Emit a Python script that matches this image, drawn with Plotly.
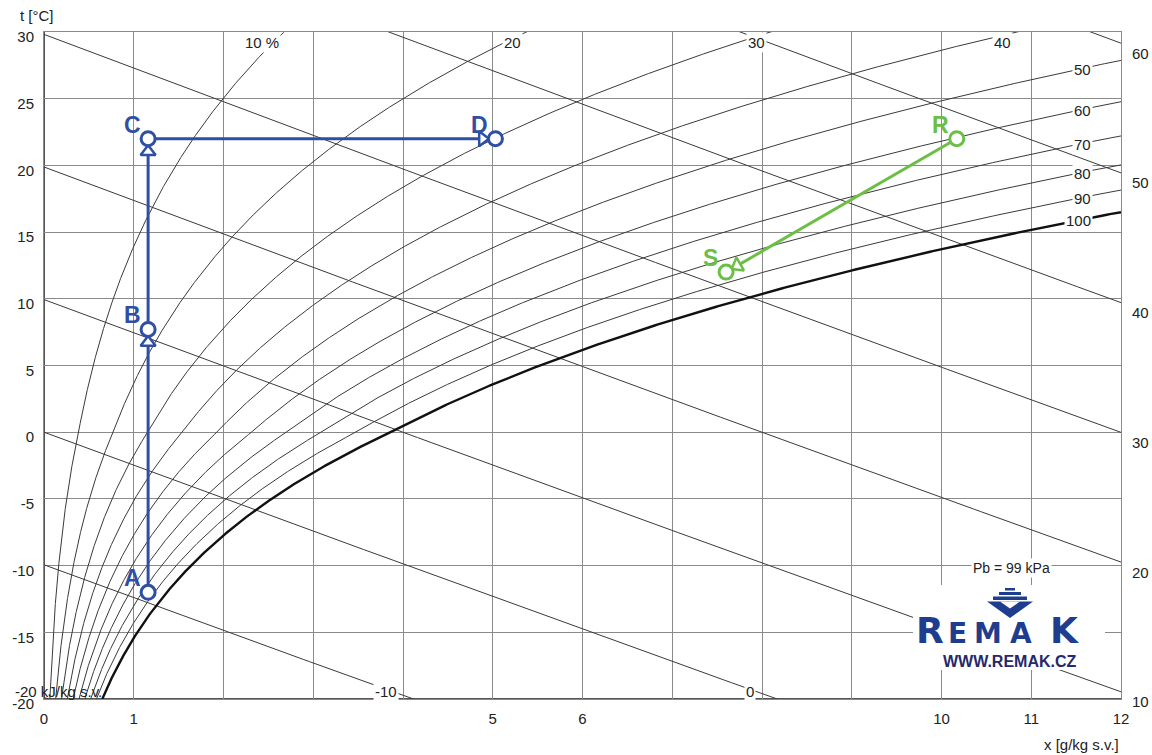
import numpy as np
import plotly.graph_objects as go

# --- chart constants -------------------------------------------------------
P_BARO = 99.0                      # barometric pressure, kPa
RH_LEVELS = [10, 20, 30, 40, 50, 60, 70, 80, 90, 100]          # %
ENTHALPY_LEVELS = [-20, -10, 0, 10, 20, 30, 40, 50, 60]        # kJ/kg s.v.
ENTHALPY_RIGHT_LABELS = [10, 20, 30, 40, 50, 60]
ENTHALPY_BOTTOM_LABELS = [-10, 0]
RH_TOP_LABELS = [10, 20, 30, 40]
RH_RIGHT_LABELS = [50, 60, 70, 80, 90, 100]

X_TICKS = list(range(0, 13))
X_TICK_TEXT = ["0", "1", "", "", "", "5", "6", "", "", "", "10", "11", "12"]
T_TICKS = [-20, -15, -10, -5, 0, 5, 10, 15, 20, 25, 30]
T_TICK_TEXT = ["-20", "-15", "-10", "-5", "0", "5", "10", "15", "20", "25", "30"]

# --- air states ------------------------------------------------------------
state_names = ["A", "B", "C", "D", "R", "S"]
state_x = [1.16, 1.16, 1.16, 5.03, 10.17, 7.60]      # g/kg s.v.
state_t = [-12.0, 7.7, 22.0, 22.0, 22.0, 12.0]       # °C

heating_path = ["A", "B", "C", "D"]
cooling_path = ["R", "S"]

BLUE = "#2f4fa5"
GREEN = "#6cbf45"
LOGO_BLUE = "#1f3d8e"
LOGO_NAVY = "#25296b"
FONT_FAMILY = "Liberation Sans, Arial, sans-serif"

# --- layout geometry -------------------------------------------------------
W, H = 1152, 755
ML, MR, MT, MB = 44, 31, 32, 56
PLOT_W = W - ML - MR
PLOT_H = H - MT - MB
X_RANGE = [0, 12]
T_RANGE = [-20, 30]
PX_PER_X = PLOT_W / (X_RANGE[1] - X_RANGE[0])
PX_PER_T = PLOT_H / (T_RANGE[1] - T_RANGE[0])


def px_paper_x(px):
    return (px - ML) / PLOT_W


def px_paper_y(py):
    return 1 - (py - MT) / PLOT_H


# --- psychrometrics --------------------------------------------------------
def p_sat(t):
    t = np.asarray(t, dtype=float)
    water = 0.61094 * np.exp(17.625 * t / (t + 243.04))
    ice = 0.61115 * np.exp(22.452 * t / (272.55 + t))
    return np.where(t >= 0, water, ice)


def x_of_t_rh(t, rh):
    pv = rh / 100.0 * p_sat(t)
    return 622.0 * pv / (P_BARO - pv)


def t_of_h_x(h, x):
    return (h - 2.501 * x) / (1.006 + 0.00186 * x)


def x_of_h_t(h, t):
    return (h - 1.006 * t) / (2.501 + 0.00186 * t)


T_GRID = np.linspace(-20, 32, 1200)


def t_of_x_rh(x, rh):
    xs = x_of_t_rh(T_GRID, rh)
    return float(np.interp(x, xs, T_GRID))


fig = go.Figure()

# enthalpy lines
x_line = np.linspace(0, 12, 200)
for h in ENTHALPY_LEVELS:
    fig.add_trace(go.Scatter(
        x=x_line, y=t_of_h_x(h, x_line), mode="lines",
        line=dict(color="#3a3a3a", width=1), hoverinfo="skip"))

# relative humidity curves
for rh in RH_LEVELS:
    fig.add_trace(go.Scatter(
        x=x_of_t_rh(T_GRID, rh), y=T_GRID, mode="lines",
        line=dict(color="#111111" if rh == 100 else "#3a3a3a",
                  width=2.4 if rh == 100 else 1),
        hoverinfo="skip"))

# process lines with arrowheads and state markers
pos = {n: (xv, tv) for n, xv, tv in zip(state_names, state_x, state_t)}


def draw_process(path, color):
    xs = [pos[n][0] for n in path]
    ts = [pos[n][1] for n in path]
    fig.add_trace(go.Scatter(x=xs, y=ts, mode="lines",
                             line=dict(color=color, width=3), hoverinfo="skip"))
    ax, at, ang = [], [], []
    for (x0, t0), (x1, t1) in zip(zip(xs[:-1], ts[:-1]), zip(xs[1:], ts[1:])):
        dx = (x1 - x0) * PX_PER_X
        dy = -(t1 - t0) * PX_PER_T
        n = np.hypot(dx, dy)
        ux, uy = dx / n, dy / n
        back = 13.0
        ax.append(x1 - back * ux / PX_PER_X)
        at.append(t1 + back * uy / PX_PER_T)
        ang.append(float(np.degrees(np.arctan2(ux, -uy))))
    fig.add_trace(go.Scatter(
        x=ax, y=at, mode="markers", hoverinfo="skip",
        marker=dict(symbol="triangle-up", size=13, angle=ang, color="white",
                    line=dict(color=color, width=2.5))))
    fig.add_trace(go.Scatter(
        x=xs, y=ts, mode="markers", hoverinfo="skip",
        marker=dict(symbol="circle", size=14, color="white",
                    line=dict(color=color, width=3))))
    for n in path:
        fig.add_annotation(x=pos[n][0], y=pos[n][1], text=f"<b>{n}</b>",
                           showarrow=False, xshift=-16, yshift=14,
                           xanchor="center", yanchor="middle",
                           font=dict(size=23, color=color, family=FONT_FAMILY))


draw_process(heating_path, BLUE)
draw_process(cooling_path, GREEN)

LABEL_FONT = dict(size=15, color="#222222", family=FONT_FAMILY)

# relative humidity labels
for rh in RH_TOP_LABELS:
    fig.add_annotation(x=float(x_of_t_rh(30.0, rh)), y=29.25,
                       text="10 %" if rh == 10 else str(rh),
                       xanchor="right", yanchor="middle", xshift=-3, showarrow=False,
                       bgcolor="white", borderpad=1, font=LABEL_FONT)
for rh in RH_RIGHT_LABELS:
    fig.add_annotation(x=11.684, y=t_of_x_rh(11.5, rh), text=str(rh),
                       xanchor="right", yanchor="middle", showarrow=False,
                       bgcolor="white", borderpad=1, font=LABEL_FONT)

# enthalpy labels
for h in ENTHALPY_RIGHT_LABELS:
    fig.add_annotation(x=1 + 9 / PLOT_W, xref="paper",
                       y=float(t_of_h_x(h, 12.0)), yref="y", yshift=-10,
                       text=str(h), xanchor="left", yanchor="middle",
                       showarrow=False, font=LABEL_FONT)
for h in ENTHALPY_BOTTOM_LABELS:
    fig.add_annotation(x=float(x_of_h_t(h, -19.4)), y=-19.4, xshift=-5,
                       text=str(h), xanchor="center", yanchor="middle",
                       showarrow=False, bgcolor="white",
                       borderpad=1, font=LABEL_FONT)
fig.add_annotation(x=px_paper_x(13), xref="paper", y=-19.4, yref="y",
                   text="-20 kJ/kg s.v.", xanchor="left", yanchor="middle",
                   showarrow=False, font=LABEL_FONT)

# axis titles
fig.add_annotation(x=px_paper_x(18), y=px_paper_y(15), xref="paper", yref="paper",
                   text="t [°C]", xanchor="left", yanchor="middle",
                   showarrow=False, font=LABEL_FONT)
fig.add_annotation(x=px_paper_x(1121), y=px_paper_y(744), xref="paper", yref="paper",
                   text="x [g/kg s.v.]", xanchor="right", yanchor="middle",
                   showarrow=False, font=LABEL_FONT)

# pressure note
fig.add_annotation(x=10.78, y=-10.2, text="Pb = 99 kPa", showarrow=False,
                   xanchor="center", yanchor="middle",
                   bgcolor="white", borderpad=1,
                   font=dict(size=14, color="#222222", family=FONT_FAMILY))

# --- REMAK logo ---------------------------------------------------------
shapes = []
shapes.append(dict(type="rect", xref="paper", yref="paper", layer="above",
                   x0=px_paper_x(913), x1=px_paper_x(1105),
                   y0=px_paper_y(670), y1=px_paper_y(585),
                   fillcolor="white", line=dict(width=0)))
for (a, b, c, d) in [(1005, 588, 1015, 590.5), (999, 592, 1021, 595),
                     (993, 596.5, 1027, 600)]:
    shapes.append(dict(type="rect", xref="paper", yref="paper", layer="above",
                       x0=px_paper_x(a), x1=px_paper_x(c),
                       y0=px_paper_y(d), y1=px_paper_y(b),
                       fillcolor=LOGO_BLUE, line=dict(width=0)))


def ppath(pts):
    s = "M " + " L ".join(f"{px_paper_x(p[0])},{px_paper_y(p[1])}" for p in pts)
    return s + " Z"


shapes.append(dict(type="path", xref="paper", yref="paper", layer="above",
                   path=ppath([(987, 601.5), (1033, 601.5), (1010, 618)]),
                   fillcolor=LOGO_BLUE, line=dict(width=0)))
shapes.append(dict(type="path", xref="paper", yref="paper", layer="above",
                   path=ppath([(1000, 601.5), (1020, 601.5), (1010, 608.5)]),
                   fillcolor="white", line=dict(width=0)))

# left and bottom axis lines
shapes.append(dict(type="line", xref="paper", yref="paper", x0=0, x1=0, y0=0, y1=1,
                   line=dict(color="#555555", width=2), layer="below"))
shapes.append(dict(type="line", xref="paper", yref="paper", x0=0, x1=1, y0=0, y1=0,
                   line=dict(color="#555555", width=2), layer="below"))

# logo lettering: tall R and K, smaller E M A
for letter, cx, cy, size in [("R", 930, 630, 36), ("E", 957, 633, 28),
                             ("M", 988, 633, 28), ("A", 1021, 633, 28),
                             ("K", 1064, 630, 36)]:
    fig.add_annotation(x=px_paper_x(cx), y=px_paper_y(cy), xref="paper", yref="paper",
                       xanchor="center", yanchor="middle",
                       text=f"<b>{letter}</b>", showarrow=False, borderpad=0,
                       font=dict(size=size, color=LOGO_BLUE, family="DejaVu Sans"))
fig.add_annotation(x=px_paper_x(1010), y=px_paper_y(661), xref="paper", yref="paper",
                   xanchor="center", yanchor="middle",
                   text="<b>WWW.REMAK.CZ</b>", showarrow=False,
                   font=dict(size=16, color=LOGO_NAVY, family=FONT_FAMILY))

fig.update_layout(
    width=W, height=H,
    margin=dict(l=ML, r=MR, t=MT, b=MB),
    paper_bgcolor="white", plot_bgcolor="white",
    showlegend=False, hovermode=False,
    shapes=shapes,
    font=LABEL_FONT,
    xaxis=dict(range=X_RANGE, tickvals=X_TICKS, ticktext=X_TICK_TEXT,
               showgrid=True, gridcolor="#8a8a8a", gridwidth=1, zeroline=False,
               showline=True, linecolor="#8a8a8a", linewidth=1, mirror=True,
               ticks="", ticklabelstandoff=6, tickfont=LABEL_FONT),
    yaxis=dict(range=T_RANGE, tickvals=T_TICKS, ticktext=T_TICK_TEXT,
               showgrid=True, gridcolor="#8a8a8a", gridwidth=1, zeroline=False,
               showline=True, linecolor="#8a8a8a", linewidth=1, mirror=True,
               ticks="", ticklabelshift=5, ticklabelstandoff=6, tickfont=LABEL_FONT),
)

fig.write_html("out.html")
